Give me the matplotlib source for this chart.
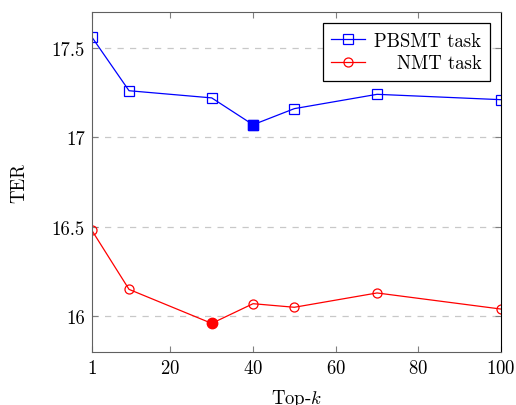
import matplotlib
matplotlib.use("Agg")
import matplotlib.pyplot as plt

top_k = [1, 10, 30, 40, 50, 70, 100]
pbsmt_ter = [17.56, 17.26, 17.22, 17.07, 17.16, 17.24, 17.21]
nmt_ter = [16.48, 16.15, 15.96, 16.07, 16.05, 16.13, 16.04]
pbsmt_best = 3  # index of the filled point
nmt_best = 2

plt.rcParams["font.family"] = "serif"
plt.rcParams["font.serif"] = ["cmr10", "DejaVu Serif"]
plt.rcParams["mathtext.fontset"] = "cm"
plt.rcParams["axes.formatter.use_mathtext"] = True

FS = 13.5

fig = plt.figure(figsize=(5.16, 4.06), dpi=100)
ax = fig.add_axes([0.178, 0.1305, 0.793, 0.8375])

ax.plot(top_k, pbsmt_ter, color="blue", lw=0.9, marker="s", ms=6.5,
        mfc="none", mec="blue", mew=0.9, label="PBSMT task")
ax.plot(top_k, nmt_ter, color="red", lw=0.9, marker="o", ms=6.5,
        mfc="none", mec="red", mew=0.9, label="NMT task")
ax.plot(top_k[pbsmt_best], pbsmt_ter[pbsmt_best], "s", color="blue", ms=6.5)
ax.plot(top_k[nmt_best], nmt_ter[nmt_best], "o", color="red", ms=7.5)

ax.set_xlim(1, 100)
ax.set_ylim(15.8, 17.7)
ax.set_xticks([1, 20, 40, 60, 80, 100])
ax.set_yticks([16, 16.5, 17, 17.5])
ax.set_yticklabels(["16", "16.5", "17", "17.5"])
ax.grid(axis="y", color="#c8c8c8", ls=(0, (5, 5)), lw=0.9)
ax.set_axisbelow(True)

ax.tick_params(direction="in", length=4.5, color="#808080", labelsize=FS,
               top=True, right=True, pad=5)
for side in ("left", "bottom", "top"):
    ax.spines[side].set_color("#606060")
ax.spines["right"].set_color("black")

ax.set_xlabel("Top-$k$", fontsize=FS, labelpad=7)
ax.set_ylabel("TER", fontsize=FS, labelpad=17)

leg = ax.legend(loc="upper right", fontsize=FS, fancybox=False,
                edgecolor="black", framealpha=1, borderaxespad=0.6,
                handlelength=1.8, handletextpad=0.5, borderpad=0.45,
                labelspacing=0.25)
leg.get_frame().set_linewidth(0.9)

# right-align the legend labels while keeping the markers in a column
fig.canvas.draw()
r = fig.canvas.get_renderer()
widths = [t.get_window_extent(r).width for t in leg.get_texts()]
rows = leg._legend_handle_box.get_children()[0].get_children()
for row, w in zip(rows, widths):
    row.sep += (max(widths) - w) * 72 / fig.dpi

fig.savefig("out.png", dpi=100)
